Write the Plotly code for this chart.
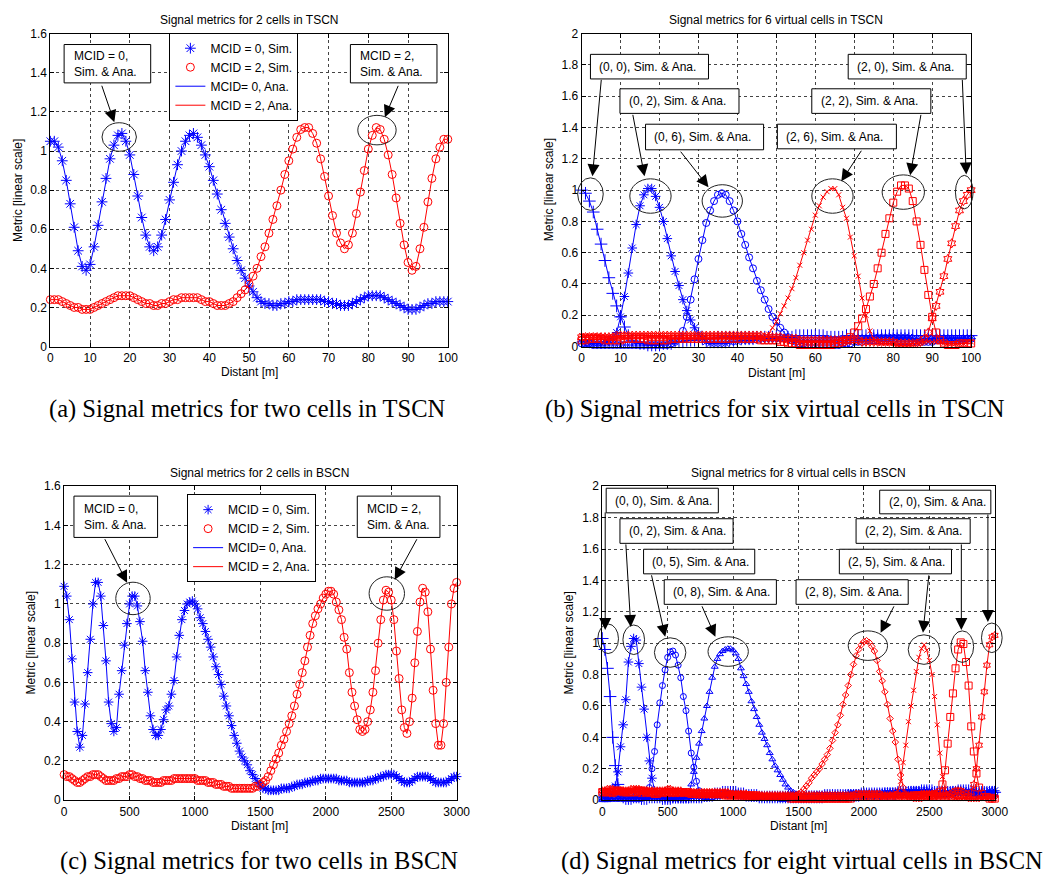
import plotly.graph_objects as go

# ---------------- data ----------------
# (a) two cells in TSCN, distance step 1 m
a_dist = list(range(0, 101))
a_mcid0 = [
    1.05, 1.05, 1.02, 0.95, 0.85, 0.73, 0.61, 0.49, 0.41, 0.39,
    0.42, 0.51, 0.62, 0.74, 0.86, 0.96, 1.03, 1.08, 1.09, 1.05,
    0.98, 0.88, 0.77, 0.66, 0.57, 0.51, 0.49, 0.51, 0.57, 0.65,
    0.75, 0.84, 0.93, 1.00, 1.05, 1.08, 1.09, 1.07, 1.03, 0.98,
    0.92, 0.85, 0.78, 0.70, 0.63, 0.56, 0.50, 0.44, 0.39, 0.35,
    0.31, 0.28, 0.25, 0.23, 0.22, 0.22, 0.21, 0.21, 0.22, 0.22,
    0.23, 0.23, 0.24, 0.24, 0.24, 0.24, 0.24, 0.24, 0.24, 0.23,
    0.23, 0.22, 0.22, 0.21, 0.21, 0.21, 0.22, 0.23, 0.24, 0.25,
    0.26, 0.26, 0.26, 0.26, 0.25, 0.24, 0.23, 0.22, 0.21, 0.20,
    0.19, 0.19, 0.19, 0.20, 0.21, 0.22, 0.22, 0.23, 0.23, 0.23,
    0.23]
a_mcid2 = [
    0.24, 0.24, 0.24, 0.23, 0.22, 0.21, 0.20, 0.20, 0.19, 0.19,
    0.19, 0.20, 0.21, 0.22, 0.23, 0.24, 0.25, 0.26, 0.26, 0.26,
    0.26, 0.25, 0.24, 0.23, 0.22, 0.22, 0.21, 0.21, 0.22, 0.22,
    0.23, 0.24, 0.24, 0.25, 0.25, 0.25, 0.25, 0.25, 0.24, 0.23,
    0.23, 0.22, 0.21, 0.21, 0.21, 0.22, 0.23, 0.25, 0.27, 0.29,
    0.32, 0.36, 0.40, 0.46, 0.51, 0.58, 0.65, 0.72, 0.80, 0.88,
    0.95, 1.01, 1.07, 1.11, 1.12, 1.12, 1.09, 1.04, 0.96, 0.87,
    0.77, 0.67, 0.58, 0.53, 0.50, 0.52, 0.58, 0.68, 0.79, 0.90,
    1.01, 1.08, 1.12, 1.11, 1.06, 0.98, 0.88, 0.76, 0.63, 0.52,
    0.43, 0.39, 0.41, 0.50, 0.61, 0.74, 0.86, 0.96, 1.02, 1.06,
    1.06]

# (b) six virtual cells in TSCN, distance step 1 m
b_dist = list(range(0, 101))
b_v00 = [
    1.00, 0.98, 0.93, 0.86, 0.75, 0.655, 0.55, 0.44, 0.34, 0.26,
    0.19, 0.125, 0.07, 0.04, 0.03, 0.02, 0.02, 0.01, 0.01, 0.01,
    0.01, 0.02, 0.02, 0.02, 0.03, 0.03, 0.03, 0.04, 0.04, 0.04,
    0.05, 0.05, 0.05, 0.05, 0.05, 0.06, 0.06, 0.06, 0.06, 0.06,
    0.06, 0.06, 0.06, 0.06, 0.06, 0.06, 0.06, 0.06, 0.06, 0.06,
    0.06, 0.06, 0.06, 0.06, 0.06, 0.07, 0.07, 0.07, 0.07, 0.07,
    0.07, 0.07, 0.07, 0.06, 0.06, 0.06, 0.06, 0.06, 0.07, 0.07,
    0.07, 0.07, 0.07, 0.07, 0.07, 0.07, 0.07, 0.07, 0.07, 0.07,
    0.07, 0.07, 0.07, 0.07, 0.07, 0.07, 0.07, 0.07, 0.07, 0.07,
    0.07, 0.07, 0.07, 0.07, 0.07, 0.07, 0.07, 0.07, 0.07, 0.07,
    0.07]
b_v02 = [
    0.03, 0.03, 0.02, 0.02, 0.02, 0.02, 0.03, 0.04, 0.05, 0.09,
    0.19, 0.32, 0.47, 0.63, 0.78, 0.90, 0.97, 1.01, 1.01, 0.96,
    0.89, 0.80, 0.69, 0.58, 0.48, 0.39, 0.30, 0.23, 0.17, 0.12,
    0.08, 0.05, 0.03, 0.02, 0.02, 0.02, 0.02, 0.02, 0.03, 0.03,
    0.03, 0.04, 0.04, 0.04, 0.04, 0.05, 0.05, 0.05, 0.05, 0.05,
    0.05, 0.05, 0.05, 0.05, 0.04, 0.04, 0.04, 0.04, 0.04, 0.04,
    0.04, 0.04, 0.04, 0.04, 0.04, 0.04, 0.04, 0.04, 0.04, 0.05,
    0.05, 0.05, 0.05, 0.05, 0.05, 0.06, 0.06, 0.06, 0.06, 0.06,
    0.06, 0.06, 0.06, 0.06, 0.06, 0.05, 0.05, 0.05, 0.05, 0.05,
    0.05, 0.05, 0.05, 0.05, 0.05, 0.05, 0.05, 0.05, 0.05, 0.05,
    0.05]
b_v06 = [
    0.02, 0.02, 0.02, 0.01, 0.01, 0.01, 0.01, 0.01, 0.01, 0.01,
    0.01, 0.01, 0.01, 0.01, 0.01, 0.01, 0.01, 0.01, 0.01, 0.01,
    0.01, 0.01, 0.01, 0.02, 0.03, 0.05, 0.10, 0.19, 0.30, 0.43,
    0.56, 0.68, 0.79, 0.87, 0.93, 0.97, 0.98, 0.97, 0.93, 0.87,
    0.80, 0.72, 0.65, 0.57, 0.50, 0.42, 0.36, 0.30, 0.24, 0.19,
    0.16, 0.12, 0.09, 0.06, 0.04, 0.03, 0.02, 0.02, 0.01, 0.01,
    0.01, 0.01, 0.01, 0.01, 0.01, 0.01, 0.01, 0.02, 0.02, 0.02,
    0.03, 0.03, 0.03, 0.04, 0.04, 0.04, 0.04, 0.04, 0.04, 0.04,
    0.04, 0.03, 0.03, 0.03, 0.03, 0.03, 0.03, 0.03, 0.03, 0.03,
    0.03, 0.04, 0.04, 0.04, 0.04, 0.04, 0.04, 0.04, 0.04, 0.05,
    0.05]
b_v26 = [
    0.07, 0.07, 0.07, 0.07, 0.07, 0.06, 0.06, 0.06, 0.06, 0.06,
    0.06, 0.06, 0.06, 0.07, 0.07, 0.07, 0.07, 0.07, 0.07, 0.07,
    0.07, 0.07, 0.06, 0.06, 0.06, 0.06, 0.06, 0.06, 0.06, 0.06,
    0.06, 0.06, 0.06, 0.06, 0.06, 0.06, 0.06, 0.06, 0.06, 0.06,
    0.06, 0.06, 0.06, 0.06, 0.06, 0.06, 0.06, 0.05, 0.08, 0.12,
    0.16, 0.21, 0.26, 0.31, 0.37, 0.44, 0.52, 0.60, 0.68, 0.75,
    0.84, 0.90, 0.955, 0.99, 1.01, 1.01, 0.97, 0.89, 0.82, 0.70,
    0.58, 0.45, 0.31, 0.20, 0.10, 0.05, 0.03, 0.02, 0.02, 0.02,
    0.02, 0.01, 0.01, 0.01, 0.01, 0.02, 0.02, 0.02, 0.03, 0.03,
    0.03, 0.03, 0.03, 0.02, 0.02, 0.02, 0.02, 0.02, 0.02, 0.03,
    0.03]
b_v22 = [
    0.04, 0.04, 0.05, 0.05, 0.05, 0.05, 0.04, 0.04, 0.04, 0.04,
    0.04, 0.05, 0.05, 0.05, 0.05, 0.05, 0.05, 0.04, 0.04, 0.04,
    0.04, 0.04, 0.04, 0.05, 0.05, 0.05, 0.05, 0.05, 0.05, 0.05,
    0.05, 0.05, 0.05, 0.05, 0.05, 0.05, 0.05, 0.05, 0.05, 0.05,
    0.05, 0.05, 0.05, 0.05, 0.05, 0.05, 0.04, 0.04, 0.04, 0.04,
    0.04, 0.03, 0.03, 0.02, 0.02, 0.02, 0.01, 0.01, 0.01, 0.01,
    0.01, 0.01, 0.01, 0.01, 0.01, 0.02, 0.02, 0.03, 0.04, 0.06,
    0.09, 0.13, 0.18, 0.24, 0.32, 0.40, 0.50, 0.60, 0.72, 0.82,
    0.92, 0.99, 1.03, 1.03, 1.01, 0.93, 0.80, 0.65, 0.49, 0.33,
    0.19, 0.09, 0.04, 0.02, 0.01, 0.01, 0.01, 0.02, 0.02, 0.02,
    0.02]
b_v20 = [
    0.06, 0.06, 0.06, 0.06, 0.06, 0.06, 0.06, 0.06, 0.06, 0.07,
    0.07, 0.07, 0.07, 0.07, 0.07, 0.07, 0.07, 0.07, 0.07, 0.07,
    0.07, 0.07, 0.07, 0.07, 0.07, 0.07, 0.07, 0.07, 0.07, 0.07,
    0.07, 0.07, 0.07, 0.07, 0.07, 0.07, 0.07, 0.07, 0.07, 0.07,
    0.07, 0.07, 0.07, 0.07, 0.07, 0.07, 0.07, 0.06, 0.06, 0.06,
    0.06, 0.06, 0.05, 0.05, 0.05, 0.05, 0.04, 0.04, 0.04, 0.04,
    0.04, 0.04, 0.04, 0.04, 0.04, 0.04, 0.04, 0.04, 0.04, 0.04,
    0.04, 0.04, 0.03, 0.03, 0.03, 0.03, 0.03, 0.03, 0.03, 0.03,
    0.03, 0.02, 0.02, 0.02, 0.02, 0.02, 0.02, 0.03, 0.05, 0.09,
    0.18, 0.26, 0.35, 0.45, 0.56, 0.66, 0.77, 0.87, 0.93, 0.97,
    1.00]

# (c) two cells in BSCN, distance step 20 m
c_dist = list(range(0, 3001, 20))
c_mcid0 = [
    1.09, 1.04, 0.92, 0.72, 0.50, 0.35, 0.27, 0.33, 0.49, 0.65,
    0.82, 1.00, 1.11, 1.11, 1.04, 0.89, 0.71, 0.50, 0.39, 0.35,
    0.37, 0.54, 0.66, 0.79, 0.90, 1.00, 1.04, 1.04, 0.99, 0.91,
    0.81, 0.66, 0.55, 0.43, 0.36, 0.33, 0.33, 0.36, 0.41, 0.46,
    0.48, 0.54, 0.61, 0.73, 0.84, 0.92, 0.967, 1.00, 1.01, 1.015,
    1.00, 0.975, 0.93, 0.90, 0.86, 0.82, 0.78, 0.73, 0.68, 0.64,
    0.59, 0.53, 0.48, 0.43, 0.38, 0.33, 0.29, 0.25, 0.22, 0.20,
    0.18, 0.15, 0.13, 0.11, 0.09, 0.07, 0.06, 0.06, 0.05, 0.05,
    0.05, 0.05, 0.05, 0.06, 0.06, 0.06, 0.06, 0.07, 0.07, 0.08,
    0.08, 0.08, 0.09, 0.09, 0.09, 0.10, 0.10, 0.10, 0.11, 0.11,
    0.11, 0.11, 0.11, 0.11, 0.11, 0.10, 0.10, 0.10, 0.10, 0.09,
    0.09, 0.09, 0.09, 0.09, 0.09, 0.09, 0.10, 0.10, 0.10, 0.11,
    0.11, 0.12, 0.12, 0.13, 0.13, 0.13, 0.13, 0.12, 0.11, 0.10,
    0.09, 0.09, 0.09, 0.10, 0.11, 0.12, 0.12, 0.12, 0.12, 0.12,
    0.11, 0.10, 0.09, 0.09, 0.09, 0.09, 0.09, 0.10, 0.11, 0.12,
    0.12]
c_mcid2 = [
    0.13, 0.12, 0.12, 0.11, 0.10, 0.09, 0.09, 0.10, 0.11, 0.12,
    0.12, 0.13, 0.13, 0.13, 0.12, 0.11, 0.10, 0.10, 0.10, 0.10,
    0.11, 0.11, 0.12, 0.12, 0.12, 0.13, 0.13, 0.12, 0.12, 0.11,
    0.11, 0.10, 0.10, 0.10, 0.09, 0.09, 0.09, 0.09, 0.10, 0.10,
    0.10, 0.10, 0.11, 0.11, 0.11, 0.11, 0.11, 0.11, 0.11, 0.11,
    0.11, 0.10, 0.10, 0.10, 0.10, 0.09, 0.09, 0.09, 0.08, 0.08,
    0.08, 0.07, 0.07, 0.07, 0.06, 0.06, 0.06, 0.06, 0.06, 0.06,
    0.06, 0.06, 0.06, 0.07, 0.07, 0.08, 0.09, 0.10, 0.12, 0.15,
    0.18, 0.21, 0.24, 0.28, 0.31, 0.35, 0.39, 0.43, 0.48, 0.54,
    0.59, 0.65, 0.71, 0.78, 0.84, 0.90, 0.94, 0.975, 1.00, 1.03,
    1.05, 1.065, 1.065, 1.05, 1.01, 0.97, 0.92, 0.83, 0.77, 0.65,
    0.55, 0.48, 0.41, 0.36, 0.35, 0.36, 0.40, 0.46, 0.55, 0.66,
    0.80, 0.92, 1.02, 1.07, 1.06, 1.02, 0.92, 0.76, 0.62, 0.46,
    0.37, 0.34, 0.40, 0.52, 0.70, 0.86, 1.01, 1.08, 1.06, 0.96,
    0.77, 0.56, 0.39, 0.28, 0.28, 0.39, 0.60, 0.78, 1.00, 1.08,
    1.11]

# (d) eight virtual cells in BSCN, distance step 20 m
d_dist = list(range(0, 3001, 20))
d_v00 = [
    1.03, 0.96, 0.84, 0.66, 0.40, 0.22, 0.10, 0.04, 0.02, 0.01,
    0.01, 0.01, 0.02, 0.02, 0.02, 0.01, 0.01, 0.01, 0.02, 0.02,
    0.02, 0.02, 0.02, 0.01, 0.01, 0.01, 0.01, 0.02, 0.02, 0.02,
    0.02, 0.02, 0.02, 0.02, 0.02, 0.02, 0.02, 0.02, 0.02, 0.03,
    0.03, 0.03, 0.03, 0.04, 0.04, 0.04, 0.05, 0.05, 0.05, 0.05,
    0.05, 0.05, 0.04, 0.04, 0.04, 0.03, 0.03, 0.03, 0.03, 0.03,
    0.02, 0.02, 0.02, 0.02, 0.02, 0.02, 0.02, 0.02, 0.02, 0.02,
    0.02, 0.02, 0.02, 0.02, 0.02, 0.02, 0.02, 0.02, 0.02, 0.02,
    0.02, 0.02, 0.02, 0.02, 0.02, 0.03, 0.03, 0.03, 0.03, 0.03,
    0.03, 0.03, 0.03, 0.03, 0.03, 0.03, 0.03, 0.03, 0.03, 0.04,
    0.04, 0.04, 0.04, 0.04, 0.04, 0.04, 0.04, 0.04, 0.04, 0.04,
    0.04, 0.04, 0.04, 0.05, 0.05, 0.05, 0.05, 0.05, 0.05, 0.05,
    0.05, 0.05, 0.06, 0.06, 0.06, 0.06, 0.06, 0.05, 0.05, 0.05,
    0.05, 0.05, 0.05, 0.05, 0.05, 0.05, 0.06, 0.06, 0.06, 0.06,
    0.06, 0.06, 0.06, 0.05, 0.05, 0.05, 0.05, 0.05, 0.05, 0.05,
    0.05]
d_v02 = [
    0.02, 0.02, 0.02, 0.03, 0.04, 0.09, 0.18, 0.34, 0.48, 0.64,
    0.88, 0.98, 1.03, 1.02, 0.87, 0.72, 0.58, 0.40, 0.25, 0.14,
    0.06, 0.03, 0.02, 0.02, 0.01, 0.01, 0.01, 0.01, 0.01, 0.01,
    0.01, 0.01, 0.01, 0.01, 0.02, 0.02, 0.02, 0.02, 0.02, 0.02,
    0.02, 0.03, 0.03, 0.03, 0.03, 0.04, 0.04, 0.04, 0.04, 0.04,
    0.04, 0.04, 0.04, 0.03, 0.03, 0.03, 0.03, 0.02, 0.02, 0.02,
    0.02, 0.02, 0.02, 0.02, 0.02, 0.02, 0.02, 0.02, 0.02, 0.02,
    0.02, 0.02, 0.02, 0.02, 0.02, 0.02, 0.02, 0.02, 0.03, 0.03,
    0.03, 0.03, 0.03, 0.03, 0.03, 0.03, 0.03, 0.03, 0.03, 0.03,
    0.03, 0.03, 0.03, 0.03, 0.04, 0.04, 0.04, 0.04, 0.04, 0.04,
    0.04, 0.04, 0.04, 0.04, 0.04, 0.04, 0.04, 0.04, 0.05, 0.05,
    0.05, 0.05, 0.05, 0.05, 0.05, 0.05, 0.05, 0.05, 0.06, 0.06,
    0.06, 0.06, 0.06, 0.06, 0.06, 0.06, 0.05, 0.05, 0.05, 0.05,
    0.05, 0.05, 0.05, 0.05, 0.06, 0.06, 0.06, 0.06, 0.06, 0.05,
    0.05, 0.05, 0.05, 0.05, 0.05, 0.05, 0.05, 0.05, 0.06, 0.06,
    0.06]
d_v05 = [
    0.01, 0.01, 0.01, 0.01, 0.01, 0.01, 0.01, 0.01, 0.01, 0.01,
    0.01, 0.01, 0.01, 0.01, 0.01, 0.01, 0.02, 0.02, 0.08, 0.20,
    0.31, 0.48, 0.62, 0.73, 0.83, 0.91, 0.945, 0.95, 0.925, 0.86,
    0.78, 0.66, 0.57, 0.44, 0.30, 0.21, 0.12, 0.06, 0.03, 0.02,
    0.02, 0.02, 0.02, 0.03, 0.03, 0.03, 0.04, 0.04, 0.04, 0.04,
    0.04, 0.04, 0.04, 0.04, 0.03, 0.03, 0.03, 0.03, 0.02, 0.02,
    0.02, 0.02, 0.02, 0.02, 0.02, 0.02, 0.02, 0.02, 0.01, 0.01,
    0.01, 0.01, 0.02, 0.02, 0.02, 0.02, 0.02, 0.02, 0.02, 0.02,
    0.02, 0.02, 0.03, 0.03, 0.03, 0.03, 0.03, 0.03, 0.03, 0.03,
    0.03, 0.03, 0.03, 0.03, 0.03, 0.04, 0.04, 0.04, 0.04, 0.04,
    0.04, 0.04, 0.04, 0.04, 0.04, 0.04, 0.04, 0.04, 0.04, 0.04,
    0.04, 0.04, 0.04, 0.05, 0.05, 0.05, 0.05, 0.05, 0.05, 0.05,
    0.05, 0.05, 0.05, 0.05, 0.05, 0.04, 0.04, 0.04, 0.04, 0.04,
    0.04, 0.04, 0.04, 0.04, 0.04, 0.05, 0.05, 0.05, 0.05, 0.05,
    0.05, 0.05, 0.05, 0.04, 0.04, 0.04, 0.04, 0.04, 0.04, 0.04,
    0.04]
d_v08 = [
    0.00, 0.00, 0.00, 0.01, 0.01, 0.01, 0.01, 0.01, 0.01, 0.01,
    0.01, 0.01, 0.01, 0.01, 0.01, 0.01, 0.01, 0.01, 0.01, 0.01,
    0.01, 0.01, 0.01, 0.01, 0.01, 0.01, 0.01, 0.01, 0.01, 0.01,
    0.02, 0.02, 0.03, 0.04, 0.10, 0.18, 0.27, 0.36, 0.44, 0.52,
    0.60, 0.69, 0.78, 0.85, 0.90, 0.93, 0.95, 0.96, 0.965, 0.965,
    0.955, 0.935, 0.90, 0.84, 0.79, 0.74, 0.69, 0.63, 0.58, 0.53,
    0.48, 0.43, 0.39, 0.35, 0.30, 0.26, 0.22, 0.19, 0.16, 0.13,
    0.10, 0.08, 0.06, 0.05, 0.04, 0.03, 0.03, 0.02, 0.02, 0.02,
    0.02, 0.02, 0.02, 0.02, 0.02, 0.02, 0.02, 0.02, 0.03, 0.03,
    0.03, 0.03, 0.03, 0.03, 0.03, 0.03, 0.03, 0.03, 0.03, 0.03,
    0.03, 0.03, 0.03, 0.03, 0.03, 0.03, 0.04, 0.04, 0.04, 0.04,
    0.04, 0.04, 0.04, 0.04, 0.04, 0.04, 0.04, 0.04, 0.04, 0.05,
    0.05, 0.05, 0.05, 0.05, 0.05, 0.05, 0.05, 0.05, 0.04, 0.04,
    0.04, 0.04, 0.04, 0.05, 0.05, 0.05, 0.05, 0.05, 0.05, 0.04,
    0.04, 0.04, 0.04, 0.04, 0.04, 0.04, 0.04, 0.03, 0.03, 0.03,
    0.03]
d_v28 = [
    0.05, 0.05, 0.05, 0.04, 0.04, 0.04, 0.05, 0.05, 0.05, 0.05,
    0.05, 0.05, 0.05, 0.05, 0.04, 0.04, 0.04, 0.04, 0.04, 0.04,
    0.04, 0.04, 0.04, 0.04, 0.04, 0.04, 0.04, 0.04, 0.04, 0.04,
    0.04, 0.04, 0.04, 0.04, 0.04, 0.04, 0.03, 0.03, 0.03, 0.03,
    0.03, 0.03, 0.03, 0.03, 0.03, 0.03, 0.03, 0.03, 0.03, 0.03,
    0.03, 0.03, 0.03, 0.03, 0.02, 0.02, 0.02, 0.02, 0.02, 0.02,
    0.02, 0.02, 0.02, 0.02, 0.02, 0.02, 0.02, 0.02, 0.02, 0.02,
    0.02, 0.02, 0.02, 0.02, 0.03, 0.04, 0.05, 0.07, 0.09, 0.11,
    0.14, 0.16, 0.18, 0.20, 0.23, 0.26, 0.29, 0.33, 0.38, 0.43,
    0.48, 0.54, 0.61, 0.67, 0.73, 0.80, 0.865, 0.92, 0.96, 0.99,
    1.01, 1.016, 1.005, 0.98, 0.95, 0.89, 0.82, 0.76, 0.69, 0.61,
    0.52, 0.44, 0.37, 0.26, 0.16, 0.08, 0.04, 0.02, 0.02, 0.01,
    0.01, 0.01, 0.01, 0.02, 0.02, 0.02, 0.02, 0.02, 0.02, 0.02,
    0.02, 0.02, 0.02, 0.02, 0.02, 0.02, 0.02, 0.02, 0.02, 0.02,
    0.01, 0.01, 0.01, 0.01, 0.01, 0.02, 0.02, 0.02, 0.02, 0.02,
    0.02]
d_v25 = [
    0.06, 0.06, 0.06, 0.06, 0.05, 0.05, 0.05, 0.05, 0.06, 0.06,
    0.06, 0.06, 0.06, 0.07, 0.07, 0.06, 0.06, 0.05, 0.05, 0.05,
    0.05, 0.05, 0.05, 0.06, 0.06, 0.06, 0.06, 0.06, 0.05, 0.05,
    0.05, 0.05, 0.05, 0.05, 0.05, 0.05, 0.05, 0.04, 0.04, 0.04,
    0.04, 0.04, 0.04, 0.04, 0.04, 0.04, 0.04, 0.04, 0.04, 0.04,
    0.04, 0.04, 0.04, 0.03, 0.03, 0.03, 0.03, 0.03, 0.03, 0.03,
    0.03, 0.02, 0.02, 0.02, 0.02, 0.02, 0.02, 0.02, 0.02, 0.02,
    0.02, 0.02, 0.02, 0.02, 0.02, 0.02, 0.02, 0.02, 0.02, 0.02,
    0.02, 0.02, 0.02, 0.02, 0.02, 0.02, 0.02, 0.02, 0.02, 0.02,
    0.02, 0.02, 0.02, 0.02, 0.02, 0.02, 0.02, 0.02, 0.02, 0.02,
    0.02, 0.02, 0.02, 0.02, 0.02, 0.02, 0.02, 0.02, 0.02, 0.03,
    0.03, 0.04, 0.05, 0.06, 0.12, 0.24, 0.35, 0.50, 0.60, 0.70,
    0.82, 0.91, 0.965, 0.99, 0.955, 0.89, 0.80, 0.66, 0.48, 0.30,
    0.15, 0.07, 0.04, 0.02, 0.02, 0.01, 0.01, 0.01, 0.01, 0.01,
    0.01, 0.01, 0.01, 0.01, 0.01, 0.01, 0.01, 0.01, 0.01, 0.01,
    0.01]
d_v22 = [
    0.05, 0.05, 0.05, 0.05, 0.05, 0.06, 0.06, 0.06, 0.05, 0.05,
    0.05, 0.05, 0.05, 0.05, 0.06, 0.06, 0.06, 0.05, 0.05, 0.05,
    0.04, 0.04, 0.05, 0.05, 0.05, 0.05, 0.05, 0.05, 0.05, 0.05,
    0.05, 0.05, 0.05, 0.05, 0.04, 0.04, 0.04, 0.04, 0.04, 0.04,
    0.04, 0.04, 0.04, 0.04, 0.04, 0.04, 0.04, 0.03, 0.03, 0.03,
    0.03, 0.03, 0.03, 0.03, 0.03, 0.03, 0.03, 0.03, 0.03, 0.03,
    0.02, 0.02, 0.02, 0.02, 0.02, 0.02, 0.02, 0.02, 0.02, 0.02,
    0.02, 0.02, 0.01, 0.01, 0.01, 0.01, 0.01, 0.01, 0.01, 0.01,
    0.01, 0.01, 0.01, 0.01, 0.01, 0.01, 0.01, 0.01, 0.01, 0.01,
    0.01, 0.01, 0.01, 0.01, 0.01, 0.01, 0.02, 0.02, 0.02, 0.02,
    0.02, 0.02, 0.02, 0.02, 0.02, 0.02, 0.02, 0.02, 0.02, 0.02,
    0.02, 0.02, 0.02, 0.02, 0.02, 0.02, 0.02, 0.02, 0.02, 0.03,
    0.03, 0.03, 0.03, 0.03, 0.03, 0.03, 0.03, 0.03, 0.04, 0.05,
    0.10, 0.19, 0.36, 0.53, 0.68, 0.84, 0.96, 1.005, 0.995, 0.88,
    0.73, 0.47, 0.31, 0.17, 0.08, 0.04, 0.02, 0.02, 0.01, 0.01,
    0.01]
d_v20 = [
    0.06, 0.06, 0.07, 0.07, 0.07, 0.06, 0.06, 0.06, 0.06, 0.06,
    0.06, 0.07, 0.07, 0.07, 0.07, 0.06, 0.06, 0.06, 0.06, 0.06,
    0.06, 0.06, 0.06, 0.06, 0.06, 0.07, 0.07, 0.06, 0.06, 0.06,
    0.06, 0.05, 0.05, 0.05, 0.05, 0.05, 0.05, 0.05, 0.05, 0.05,
    0.05, 0.05, 0.05, 0.05, 0.05, 0.05, 0.05, 0.05, 0.05, 0.04,
    0.04, 0.04, 0.04, 0.04, 0.04, 0.04, 0.03, 0.03, 0.03, 0.03,
    0.03, 0.03, 0.03, 0.03, 0.03, 0.03, 0.03, 0.03, 0.03, 0.03,
    0.03, 0.03, 0.03, 0.03, 0.03, 0.03, 0.03, 0.03, 0.03, 0.03,
    0.03, 0.03, 0.03, 0.03, 0.03, 0.03, 0.03, 0.03, 0.03, 0.03,
    0.03, 0.03, 0.03, 0.03, 0.03, 0.03, 0.03, 0.04, 0.04, 0.04,
    0.04, 0.04, 0.04, 0.04, 0.04, 0.04, 0.04, 0.03, 0.03, 0.03,
    0.03, 0.03, 0.03, 0.03, 0.03, 0.03, 0.03, 0.03, 0.03, 0.03,
    0.03, 0.03, 0.04, 0.04, 0.04, 0.04, 0.04, 0.04, 0.03, 0.03,
    0.03, 0.03, 0.03, 0.04, 0.05, 0.06, 0.06, 0.06, 0.05, 0.04,
    0.03, 0.05, 0.10, 0.20, 0.35, 0.53, 0.69, 0.86, 0.99, 1.04,
    1.05]

tscn_xticks = [0, 10, 20, 30, 40, 50, 60, 70, 80, 90, 100]
bscn_xticks = [0, 500, 1000, 1500, 2000, 2500, 3000]
yticks_16 = [0, 0.2, 0.4, 0.6, 0.8, 1.0, 1.2, 1.4, 1.6]
yticks_16_text = ["0", "0.2", "0.4", "0.6", "0.8", "1", "1.2", "1.4", "1.6"]
yticks_20 = [0, 0.2, 0.4, 0.6, 0.8, 1.0, 1.2, 1.4, 1.6, 1.8, 2.0]
yticks_20_text = ["0", "0.2", "0.4", "0.6", "0.8", "1", "1.2", "1.4", "1.6", "1.8", "2"]

for arr in (a_mcid0, a_mcid2):
    assert len(arr) == len(a_dist), len(arr)
for arr in (b_v00, b_v02, b_v06, b_v26, b_v22, b_v20):
    assert len(arr) == len(b_dist), len(arr)
for arr in (c_mcid0, c_mcid2):
    assert len(arr) == len(c_dist), len(arr)
for arr in (d_v00, d_v02, d_v05, d_v08, d_v28, d_v25, d_v22, d_v20):
    assert len(arr) == len(d_dist), len(arr)

# ---------------- figure ----------------
# The page keeps the browser's default 8 px body margin, so the figure is
# 16 px smaller than the window and all layout positions (given in window
# pixels) are shifted by that margin.
WIN_W, WIN_H = 1064, 884
MARGIN = 8
W, H = WIN_W - 2 * MARGIN, WIN_H - 2 * MARGIN

def px(x):
    return (x - MARGIN) / W
def py(y):
    return 1 - (y - MARGIN) / H

FONT = "Liberation Sans, Arial, Helvetica, sans-serif"
SERIF = "Liberation Serif, Times New Roman, serif"
BLUE = "#0000ff"
RED = "#ff0000"

fig = go.Figure()

def add(xs, ys, xa, ya, color, symbol, size, mode, name=None, legend=None):
    fig.add_trace(go.Scatter(
        x=xs, y=ys, xaxis=xa, yaxis=ya, mode=mode, name=name,
        showlegend=name is not None, legend=legend,
        marker=dict(symbol=symbol, size=size, color=color,
                    line=dict(color=color, width=1)),
        line=dict(color=color, width=1), cliponaxis=False))

# (a)
add(a_dist, a_mcid0, "x", "y", BLUE, "asterisk-open", 9, "markers", "MCID = 0, Sim.", "legend")
add(a_dist, a_mcid2, "x", "y", RED, "circle-open", 8, "markers", "MCID = 2, Sim.", "legend")
add(a_dist, a_mcid0, "x", "y", BLUE, "circle", 1, "lines", "MCID= 0, Ana.", "legend")
add(a_dist, a_mcid2, "x", "y", RED, "circle", 1, "lines", "MCID = 2, Ana.", "legend")

# (b)
b_styles = [
    (b_v00, BLUE, "cross-thin-open", 9),
    (b_v02, BLUE, "asterisk-open", 8),
    (b_v06, BLUE, "circle-open", 7),
    (b_v26, RED, "x-thin-open", 5),
    (b_v22, RED, "square-open", 7),
    (b_v20, RED, "hexagram-open", 7),
]
for ys, col, sym, sz in b_styles:
    add(b_dist, ys, "x2", "y2", col, sym, sz, "lines+markers")

# (c)
add(c_dist, c_mcid0, "x3", "y3", BLUE, "asterisk-open", 8, "markers", "MCID = 0, Sim.", "legend2")
add(c_dist, c_mcid2, "x3", "y3", RED, "circle-open", 8, "markers", "MCID = 2, Sim.", "legend2")
add(c_dist, c_mcid0, "x3", "y3", BLUE, "circle", 1, "lines", "MCID= 0, Ana.", "legend2")
add(c_dist, c_mcid2, "x3", "y3", RED, "circle", 1, "lines", "MCID = 2, Ana.", "legend2")

# (d)
d_styles = [
    (d_v00, BLUE, "cross-thin-open", 9),
    (d_v02, BLUE, "asterisk-open", 8),
    (d_v05, BLUE, "circle-open", 6),
    (d_v08, BLUE, "triangle-up-open", 6),
    (d_v28, RED, "diamond-open", 5),
    (d_v25, RED, "x-thin-open", 5),
    (d_v22, RED, "square-open", 7),
    (d_v20, RED, "hexagram-open", 6),
]
for ys, col, sym, sz in d_styles:
    add(d_dist, ys, "x4", "y4", col, sym, sz, "lines+markers")

axis_common = dict(
    showline=True, linecolor="black", linewidth=1, mirror="ticks",
    ticks="inside", ticklen=4, tickwidth=1, tickcolor="black",
    showgrid=True, gridcolor="#444444", gridwidth=1, griddash="3px,3px",
    zeroline=False, fixedrange=True,
    tickfont=dict(family=FONT, size=12, color="black"),
)

legend_common = dict(xanchor="left", yanchor="top", bgcolor="white",
                     bordercolor="black", borderwidth=1,
                     font=dict(family=FONT, size=12, color="black"),
                     tracegroupgap=0, itemwidth=30)

fig.update_layout(
    width=W, height=H, autosize=False,
    margin=dict(l=0, r=0, t=0, b=0, pad=0),
    paper_bgcolor="white", plot_bgcolor="white",
    xaxis=dict(domain=[px(48), px(452)], anchor="y", range=[0, 100],
               tickvals=tscn_xticks, **axis_common),
    yaxis=dict(domain=[py(345), py(27)], anchor="x", range=[0, 1.6],
               tickvals=yticks_16, ticktext=yticks_16_text, **axis_common),
    xaxis2=dict(domain=[px(588), px(984)], anchor="y2", range=[0, 100],
                tickvals=tscn_xticks, **axis_common),
    yaxis2=dict(domain=[py(345), py(27)], anchor="x2", range=[0, 2],
                tickvals=yticks_20, ticktext=yticks_20_text, **axis_common),
    xaxis3=dict(domain=[px(62), px(461)], anchor="y3", range=[0, 3000],
                tickvals=bscn_xticks, **axis_common),
    yaxis3=dict(domain=[py(806), py(487)], anchor="x3", range=[0, 1.6],
                tickvals=yticks_16, ticktext=yticks_16_text, **axis_common),
    xaxis4=dict(domain=[px(609), px(1008)], anchor="y4", range=[0, 3000],
                tickvals=bscn_xticks, **axis_common),
    yaxis4=dict(domain=[py(806), py(487)], anchor="x4", range=[0, 2],
                tickvals=yticks_20, ticktext=yticks_20_text, **axis_common),
    legend=dict(x=px(169), y=py(26), **legend_common),
    legend2=dict(x=px(187), y=py(495), **legend_common),
)

shapes = []
annotations = []

def label(x, y, text, size=12, family=FONT, angle=0):
    annotations.append(dict(xref="paper", yref="paper", x=px(x), y=py(y),
                            xanchor="center", yanchor="middle", text=text,
                            showarrow=False, textangle=angle,
                            font=dict(family=family, size=size, color="black")))

def box(x0, y0, x1, y1, text, tx):
    shapes.append(dict(type="rect", xref="paper", yref="paper",
                       x0=px(x0), x1=px(x1), y0=py(y1), y1=py(y0),
                       fillcolor="white", line=dict(color="black", width=1),
                       layer="above"))
    annotations.append(dict(xref="paper", yref="paper", x=px(tx),
                            y=py((y0 + y1) / 2), xanchor="left", yanchor="middle",
                            text=text, showarrow=False, align="left",
                            font=dict(family=FONT, size=12, color="black")))

def arrow(tx, ty, hx, hy):
    annotations.append(dict(xref="paper", yref="paper", x=px(hx), y=py(hy),
                            ax=tx - hx, ay=ty - hy, axref="pixel", ayref="pixel",
                            text="", showarrow=True, arrowhead=2, arrowsize=2.4,
                            arrowwidth=1, arrowcolor="black", standoff=0))

def ellipse(cx, cy, w, h):
    shapes.append(dict(type="circle", xref="paper", yref="paper",
                       x0=px(cx - w / 2), x1=px(cx + w / 2),
                       y0=py(cy + h / 2), y1=py(cy - h / 2),
                       line=dict(color="#222222", width=1),
                       fillcolor="rgba(0,0,0,0)", layer="above"))

# titles, axis labels, captions
label(250, 13, "Signal metrics for 2 cells in TSCN")
label(786, 13, "Signal metrics for 6 virtual cells in TSCN")
label(261, 473, "Signal metrics for 2 cells in BSCN")
label(808, 473, "Signal metrics for 8 virtual cells in BSCN")
for x, y in [(250, 371), (786, 372), (261, 832), (808, 832)]:
    label(x, y, "Distant [m]")
for x, y in [(15, 186), (555, 186), (28, 646), (575, 646)]:
    label(x, y, "Metric [linear scale]", angle=-90)
label(248.5, 408, "(a) Signal metrics for two cells in TSCN", 24.5, SERIF)
label(785, 408, "(b) Signal metrics for six virtual cells in TSCN", 24.5, SERIF)
label(260.5, 868, "(c) Signal metrics for two cells in BSCN", 24.5, SERIF)
label(812, 868, "(d) Signal metrics for eight virtual cells in BSCN", 24.5, SERIF)

# (a) call-outs
box(62, 38, 150, 77, "MCID = 0,<br>Sim. & Ana.", 70)
box(353, 38, 441, 77, "MCID = 2,<br>Sim. & Ana.", 361)
arrow(100, 79, 113, 117)
arrow(402, 79, 388, 112)
ellipse(118, 132, 35, 29)
ellipse(380, 125, 39, 30)

# (b) call-outs
b_boxes = [
    ((597, 48, 717, 73), "(0, 0), Sim. & Ana."),
    ((627, 83, 748, 108), "(0, 2), Sim. & Ana."),
    ((653, 119, 773, 145), "(0, 6), Sim. & Ana."),
    ((787, 119, 908, 144), "(2, 6), Sim. & Ana."),
    ((822, 83, 943, 108), "(2, 2), Sim. & Ana."),
    ((859, 48, 979, 73), "(2, 0), Sim. & Ana."),
]
for (x0, y0, x1, y1), t in b_boxes:
    box(x0, y0, x1, y1, t, x0 + 7)
for a in [(608, 74, 599, 172), (640, 109, 652, 172), (688, 146, 717, 183),
          (873, 145, 852, 177), (933, 109, 922, 171), (975, 74, 979, 170)]:
    arrow(*a)
for e in [(597, 190, 26, 33), (658, 192, 42, 35), (731, 197, 41, 33),
          (843, 192, 42, 35), (915, 188, 43, 35), (977, 188, 18, 34)]:
    ellipse(*e)

# (c) call-outs
box(72, 497, 157, 539, "MCID = 0,<br>Sim. & Ana.", 80)
box(360, 497, 444, 539, "MCID = 2,<br>Sim. & Ana.", 368)
arrow(103, 540, 126, 585)
arrow(421, 540, 398, 582)
ellipse(132, 601, 35, 33)
ellipse(390, 596, 36, 34)

# (d) call-outs
d_boxes = [
    ((613, 489, 727, 514), "(0, 0), Sim. & Ana."),
    ((627, 520, 742, 545), "(0, 2), Sim. & Ana."),
    ((651, 551, 764, 576), "(0, 5), Sim. & Ana."),
    ((672, 582, 786, 607), "(0, 8), Sim. & Ana."),
    ((806, 582, 920, 607), "(2, 8), Sim. & Ana."),
    ((850, 551, 964, 576), "(2, 5), Sim. & Ana."),
    ((867, 520, 983, 545), "(2, 2), Sim. & Ana."),
    ((891, 491, 1004, 515), "(2, 0), Sim. & Ana."),
]
for (x0, y0, x1, y1), t in d_boxes:
    box(x0, y0, x1, y1, t, x0 + 7)
for a in [(612, 514, 612, 633), (633, 546, 638, 630), (659, 577, 673, 640),
          (710, 608, 724, 640), (906, 608, 892, 636), (941, 577, 935, 636),
          (974, 546, 974, 633), (1001, 516, 1001, 625)]:
    arrow(*a)
for e in [(615, 642, 21, 30), (641, 643, 22, 30), (678, 656, 32, 30),
          (737, 655, 41, 30), (879, 649, 40, 30), (936, 653, 32, 30),
          (975, 650, 23, 32), (1005, 641, 21, 30)]:
    ellipse(*e)

fig.update_layout(shapes=shapes, annotations=annotations)

fig.write_html("out.html", config={"displayModeBar": False})
